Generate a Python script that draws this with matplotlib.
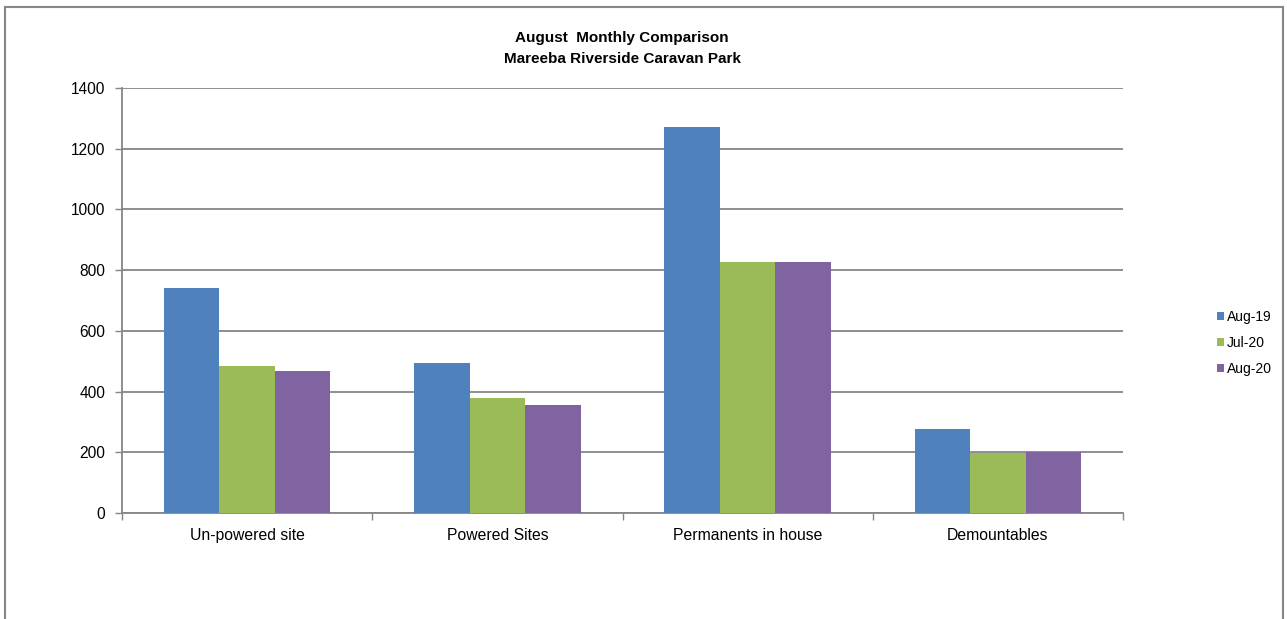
import numpy as np
import matplotlib
matplotlib.use("Agg")
import matplotlib.pyplot as plt
from matplotlib.lines import Line2D

plt.rcParams["font.family"] = ["Liberation Sans", "DejaVu Sans"]

categories = ["Un-powered site", "Powered Sites", "Permanents in house", "Demountables"]
series = ["Aug-19", "Jul-20", "Aug-20"]
aug19 = [742, 494, 1271, 277]
jul20 = [483, 378, 826, 197]
aug20 = [467, 355, 826, 200]
colors = ["#4F81BD", "#9BBB59", "#8064A2"]

fig = plt.figure(figsize=(12.87, 6.19), dpi=100)
ax = fig.add_axes([122 / 1287, 1 - 513 / 619, (1123 - 122) / 1287, (513 - 88) / 619])

x = np.arange(len(categories))
w = 0.222
for i, (vals, c, name) in enumerate(zip([aug19, jul20, aug20], colors, series)):
    ax.bar(x + (i - 1) * w, vals, w, color=c, label=name, zorder=3)

ax.set_xlim(-0.5, len(categories) - 0.5)
ax.set_ylim(0, 1400)
ax.set_yticks(range(0, 1401, 200))
ax.yaxis.grid(True, color="#868686", linewidth=1.3, zorder=0)
ax.set_xticks(x)
ax.set_xticklabels(categories, fontsize=11.3)
ax.set_xticks(np.arange(-0.5, len(categories), 1), minor=True)
ax.tick_params(axis="x", which="major", length=0, pad=11)
ax.tick_params(axis="x", which="minor", length=5, color="#868686", width=1)
ax.tick_params(axis="y", length=5, color="#868686", width=1, labelsize=11.2, pad=7)
for s in ["top", "right"]:
    ax.spines[s].set_visible(False)
for s in ["left", "bottom"]:
    ax.spines[s].set_color("#868686")
    ax.spines[s].set_linewidth(1.3)

fig.text(622 / 1287, 1 - 38 / 619, "August  Monthly Comparison", ha="center", va="center",
         fontsize=11, fontweight="bold")
fig.text(622 / 1287, 1 - 59 / 619, "Mareeba Riverside Caravan Park", ha="center", va="center",
         fontsize=11, fontweight="bold")

ax.legend(loc="center left", bbox_to_anchor=(1211 / 1287, 1 - 343 / 619), bbox_transform=fig.transFigure,
          frameon=False, fontsize=10, handlelength=0.55, handleheight=0.55, handletextpad=0.2,
          labelspacing=0.85, borderaxespad=0)

# chart area border
bc = "#868686"
fig.add_artist(Line2D([5 / 1287, 5 / 1287], [0, 1 - 7 / 619], transform=fig.transFigure, color=bc, lw=1.5))
fig.add_artist(Line2D([5 / 1287, 1283 / 1287], [1 - 7 / 619, 1 - 7 / 619], transform=fig.transFigure, color=bc, lw=1.5))
fig.add_artist(Line2D([1283 / 1287, 1283 / 1287], [0, 1 - 7 / 619], transform=fig.transFigure, color=bc, lw=1.5))

fig.savefig("out.png", dpi=100)
